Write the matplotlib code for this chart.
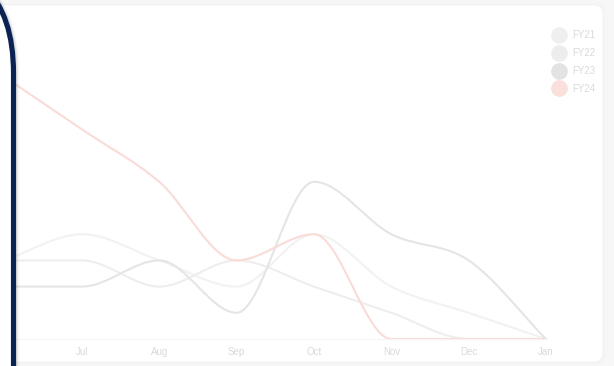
import numpy as np
import matplotlib
matplotlib.use("Agg")
import matplotlib.pyplot as plt
from matplotlib.path import Path
from matplotlib.patches import PathPatch, FancyBboxPatch
from matplotlib.lines import Line2D

plt.rcParams["font.family"] = ["Liberation Sans", "DejaVu Sans"]

# ---- data ----
months = ["Jun", "Jul", "Aug", "Sep", "Oct", "Nov", "Dec", "Jan"]
fy21 = [3, 4, 3, 2, 4, 2, 1, 0]
fy22 = [3, 3, 2, 3, 2, 1, 0, 0]
fy23 = [2, 2, 3, 1, 6, 4, 3, 0]
fy24 = [10, 8, 6, 3, 4, 0, 0, 0]
series_names = ["FY21", "FY22", "FY23", "FY24"]
series_values = [fy21, fy22, fy23, fy24]
line_colors = ["#f2f2f2", "#eeeeee", "#e5e5e5", "#f9dcd8"]
legend_colors = ["#efefef", "#ededed", "#e3e3e3", "#fbdfdb"]

W, H = 614, 366
fig = plt.figure(figsize=(W / 100, H / 100), dpi=100)
fig.patch.set_facecolor("#f7f7f7")


def px_rect(x0, y0, x1, y1):
    """Figure-fraction rectangle from a pixel box (y measured from the top)."""
    return [x0 / W, 1 - y1 / H, (x1 - x0) / W, (y1 - y0) / H]


def monotone_path(xs, ys):
    """Monotone cubic (Fritsch-Carlson) curve through the points as a Bezier path."""
    xs = np.asarray(xs, float)
    ys = np.asarray(ys, float)
    n = len(xs)
    d = np.diff(ys) / np.diff(xs)
    m = np.zeros(n)
    for i in range(n):
        if i == 0:
            m[i] = d[0]
        elif i == n - 1:
            m[i] = d[-1]
        elif np.sign(d[i - 1]) != np.sign(d[i]):
            m[i] = 0.0
        else:
            m[i] = (d[i - 1] + d[i]) / 2
    for i in range(n - 1):
        if abs(d[i]) < 1e-12:
            m[i] = m[i + 1] = 0.0
            continue
        a = m[i] / d[i]
        b = m[i + 1] / d[i]
        s = a * a + b * b
        if s <= 9:
            continue
        t = 3 / np.sqrt(s)
        m[i] = a * t * d[i]
        m[i + 1] = b * t * d[i]
    verts = [(xs[0], ys[0])]
    codes = [Path.MOVETO]
    for i in range(n - 1):
        dx = (xs[i + 1] - xs[i]) / 3
        verts += [(xs[i] + dx, ys[i] + dx * m[i]),
                  (xs[i + 1] - dx, ys[i + 1] - dx * m[i + 1]),
                  (xs[i + 1], ys[i + 1])]
        codes += [Path.CURVE4] * 3
    return Path(verts, codes)


# ---- background card ----
bg = fig.add_axes([0, 0, 1, 1], zorder=0)
bg.set_xlim(0, W)
bg.set_ylim(H, 0)
bg.axis("off")
for k, a in enumerate([0.012, 0.009, 0.006]):
    bg.add_patch(FancyBboxPatch((-40 - k, 5 - k), 643 + 2 * k, 357 + 2 * k + 1,
                                boxstyle="round,pad=0,rounding_size=10",
                                fc="none", ec=(0, 0, 0, a), lw=1.0))
bg.add_patch(FancyBboxPatch((-40, 5), 643, 357,
                            boxstyle="round,pad=0,rounding_size=9",
                            fc="white", ec="#f2f2f2", lw=0.6))

# ---- line chart ----
x_left, x_right, y_base, ppu, y_max = 4.6, 546.0, 339.0, 26.2, 11
ax = fig.add_axes(px_rect(x_left, y_base - ppu * y_max, x_right, y_base), zorder=1)
ax.patch.set_alpha(0)
xs = np.arange(len(months))
ax.set_xlim(xs[0], xs[-1])
ax.set_ylim(0, y_max)

for vals, col in zip(series_values, line_colors):
    ax.add_patch(PathPatch(monotone_path(xs, vals), fc="none", ec=col, lw=1.5,
                           capstyle="round", joinstyle="round", clip_on=False))

# the first month's label sits under the overlapping panel, so only the rest are labelled
ax.set_xticks(xs[1:])
ax.set_xticklabels(months[1:])
ax.tick_params(axis="x", length=0, pad=5.5, labelsize=7, labelcolor="#d9d9d9")
ax.set_yticks([])
for side in ["left", "right", "top"]:
    ax.spines[side].set_visible(False)
ax.spines["bottom"].set_color("#f5f5f5")
ax.spines["bottom"].set_linewidth(0.8)

handles = [Line2D([], [], ls="", marker="o", markersize=11, markerfacecolor=c,
                  markeredgecolor=c) for c in legend_colors]
leg = ax.legend(handles, series_names, loc="upper left",
                bbox_to_anchor=(554.0 / W, 1 - 30.5 / H), bbox_transform=fig.transFigure,
                frameon=False, fontsize=7, labelcolor="#dadada", borderpad=0,
                borderaxespad=0, handlelength=1.0, handletextpad=0.9,
                labelspacing=0.8)

# ---- overlapping panel with navy outline ----
ov = fig.add_axes([0, 0, 1, 1], zorder=3)
ov.set_xlim(0, W)
ov.set_ylim(H, 0)
ov.axis("off")
panel_box = (-300, -42, 313.5, 1200)
for k, a in enumerate([0.09, 0.06, 0.04, 0.02]):
    ov.add_patch(FancyBboxPatch((panel_box[0] + k + 1.5, panel_box[1]), panel_box[2], panel_box[3],
                                boxstyle="round,pad=0,rounding_size=115",
                                fc="none", ec=(0, 0, 0, a), lw=2.2))
ov.add_patch(FancyBboxPatch(panel_box[:2], panel_box[2], panel_box[3],
                            boxstyle="round,pad=0,rounding_size=115",
                            fc="white", ec="#0b2254", lw=3.7))

fig.savefig("out.png", dpi=100, facecolor=fig.get_facecolor())
